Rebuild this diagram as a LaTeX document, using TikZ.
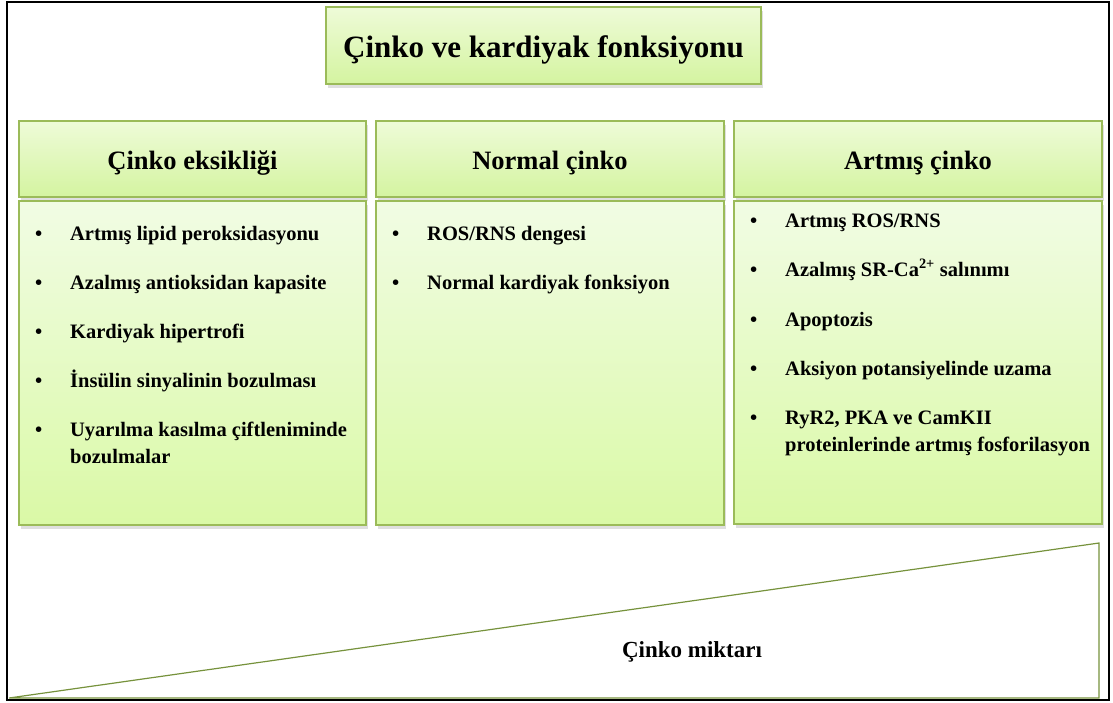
\documentclass[tikz,border=0pt]{standalone}
\usepackage{fontspec}
\setmainfont{Liberation Serif}
\usepackage{tikz}
\usetikzlibrary{shadows,positioning}
\definecolor{zincEdge}{RGB}{155,187,89}
\definecolor{zincLine}{RGB}{118,146,60}
\definecolor{headTop}{RGB}{238,251,216}
\definecolor{headBot}{RGB}{212,244,160}
\definecolor{bodyTop}{RGB}{241,252,228}
\definecolor{bodyBot}{RGB}{218,249,166}
\tikzset{
  panel/.style={draw=zincEdge, line width=1.2pt, inner sep=0pt,
    drop shadow={opacity=0.25, shadow xshift=2pt, shadow yshift=-4pt}},
  headbox/.style={panel, top color=headTop, bottom color=headBot,
    font=\fontsize{26.5}{31}\selectfont\bfseries},
  bodybox/.style={panel, top color=bodyTop, bottom color=bodyBot},
  bullet/.style={anchor=west, inner sep=0pt, font=\fontsize{20.5}{27}\selectfont\bfseries}
}
\newcommand{\bitem}[1]{\begin{tabular}{@{}p{35pt}@{}l@{}}\textbullet & #1\end{tabular}}
\newcommand{\lowered}[1]{\raisebox{-4pt}[\height][\depth]{#1}}
\begin{document}
\begin{tikzpicture}[x=1pt,y=-1pt]
  \useasboundingbox (0,0) rectangle (1113,702);
  % Frame
  \draw[line width=1.6pt] (7,2) rectangle (1109,700);
  % Title
  \node[headbox, minimum width=435pt, minimum height=77pt,
    font=\fontsize{31}{36}\selectfont\bfseries] (title) at (543.5,45.5)
    {\lowered{Çinko ve kardiyak fonksiyonu}};
  % Column heads
  \node[headbox, minimum width=347pt, minimum height=76pt] (lowhead) at (192.5,159) {\lowered{Çinko eksikliği}};
  \node[headbox, minimum width=348pt, minimum height=76pt] (normhead) at (550,159) {\lowered{Normal çinko}};
  \node[headbox, minimum width=368pt, minimum height=76pt] (highhead) at (918,159) {\lowered{Artmış çinko}};
  % Column bodies
  \node[bodybox, minimum width=347pt, minimum height=324pt] (lowbody) at (192.5,363) {};
  \node[bodybox, minimum width=348pt, minimum height=324pt] (normbody) at (550,363) {};
  \node[bodybox, minimum width=368pt, minimum height=323pt] (highbody) at (918,362.5) {};
  % Deficiency items
  \node[bullet] (low1) at (35,235) {\bitem{Artmış lipid peroksidasyonu}};
  \node[bullet] (low2) at (35,284) {\bitem{Azalmış antioksidan kapasite}};
  \node[bullet] (low3) at (35,333) {\bitem{Kardiyak hipertrofi}};
  \node[bullet] (low4) at (35,382) {\bitem{İnsülin sinyalinin bozulması}};
  \node[bullet] (low5) at (35,444.5) {\bitem{Uyarılma kasılma çiftleniminde\\ & bozulmalar}};
  % Normal items
  \node[bullet] (norm1) at (392,235) {\bitem{ROS/RNS dengesi}};
  \node[bullet] (norm2) at (392,284) {\bitem{Normal kardiyak fonksiyon}};
  % Excess items
  \node[bullet] (high1) at (750,222) {\bitem{Artmış ROS/RNS}};
  \node[bullet] (high2) at (750,271) {\bitem{Azalmış SR-Ca\textsuperscript{2+} salınımı}};
  \node[bullet] (high3) at (750,321) {\bitem{Apoptozis}};
  \node[bullet] (high4) at (750,370) {\bitem{Aksiyon potansiyelinde uzama}};
  \node[bullet] (high5) at (750,432.5) {\bitem{RyR2, PKA ve CamKII\\ & proteinlerinde artmış fosforilasyon}};
  % Zinc amount wedge
  \coordinate (wedgeA) at (9,698);
  \coordinate (wedgeB) at (1099,543);
  \coordinate (wedgeC) at (1099,698);
  \draw[zincLine, line width=1.2pt, line join=miter] (wedgeA) -- (wedgeB) -- (wedgeC) -- cycle;
  \node[font=\fontsize{23}{27}\selectfont\bfseries] (amount) at (692,652) {Çinko miktarı};
\end{tikzpicture}
\end{document}
